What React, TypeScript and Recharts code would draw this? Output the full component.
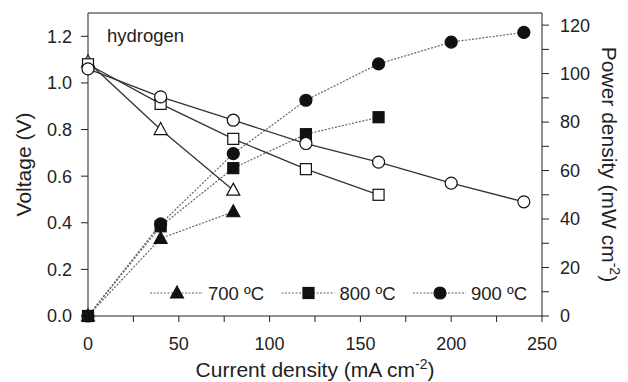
import React from "react";
import { LineChart, Line, XAxis, YAxis, ReferenceLine } from "recharts";

const current700 = [0, 40, 80];
const current800 = [0, 40, 80, 120, 160];
const current900 = [0, 40, 80, 120, 160, 200, 240];

const voltage700 = [1.09, 0.8, 0.54];
const voltage800 = [1.08, 0.91, 0.76, 0.63, 0.52];
const voltage900 = [1.06, 0.94, 0.84, 0.74, 0.66, 0.57, 0.49];

const power700 = [0, 32, 43];
const power800 = [0, 37, 61, 75, 82];
const power900 = [0, 38, 67, 89, 104, 113, 117];

const legendLabels = ["700 ºC", "800 ºC", "900 ºC"];

const xTicks = [0, 25, 50, 75, 100, 125, 150, 175, 200, 225, 250];
const leftTicks = [0, 0.2, 0.4, 0.6, 0.8, 1.0, 1.2];
const rightTicks = [0, 10, 20, 30, 40, 50, 60, 70, 80, 90, 100, 110, 120];

const FONT = "'Liberation Sans', Arial, sans-serif";
const INK = "#222";

const rows = (xs: number[], ys: number[]) => xs.map((x, i) => ({ x, y: ys[i] }));

type Shape = "triangle" | "square" | "circle";
const shapes: Shape[] = ["triangle", "square", "circle"];

const marker = (shape: Shape, filled: boolean) => (props: any) => {
  const { cx, cy, key } = props;
  if (cx == null || cy == null) return <g key={key} />;
  const fill = filled ? "#111" : "#fff";
  const common = { fill, stroke: "#111", strokeWidth: 1.2 };
  if (shape === "circle") return <circle key={key} cx={cx} cy={cy} r={6} {...common} />;
  if (shape === "square")
    return <rect key={key} x={cx - 5.5} y={cy - 5.5} width={11} height={11} {...common} />;
  return (
    <path
      key={key}
      d={`M${cx},${cy - 7} L${cx + 6.5},${cy + 5} L${cx - 6.5},${cy + 5} Z`}
      {...common}
    />
  );
};

// legend drawn straight into the svg, inside the plot near the bottom
const LegendRow = () => (
  <g>
    {legendLabels.map((label, i) => {
      const x0 = 150 + i * 131.5;
      const y = 293;
      return (
        <g key={label}>
          <line x1={x0} y1={y} x2={x0 + 53} y2={y} stroke="#666" strokeWidth={1.2} strokeDasharray="2 1.5" />
          {marker(shapes[i], true)({ cx: x0 + 27, cy: y })}
          <text x={x0 + 58} y={y + 6.5} fontFamily={FONT} fontSize={18.5} fill={INK}>
            {label}
          </text>
        </g>
      );
    })}
  </g>
);

const XLabel = (props: any) => {
  const { viewBox } = props;
  const cx = viewBox.x + viewBox.width / 2;
  return (
    <text x={cx} y={377} textAnchor="middle" fontFamily={FONT} fontSize={21} fill={INK}>
      Current density (mA cm<tspan dy={-8} fontSize={14}>-2</tspan><tspan dy={8}>)</tspan>
    </text>
  );
};

const LeftLabel = (props: any) => {
  const { viewBox } = props;
  const cy = viewBox.y + viewBox.height / 2;
  return (
    <text x={31} y={cy} textAnchor="middle" fontFamily={FONT} fontSize={21} fill={INK}
      transform={`rotate(-90, 31, ${cy})`}>
      Voltage (V)
    </text>
  );
};

const RightLabel = (props: any) => {
  const { viewBox } = props;
  const cy = viewBox.y + viewBox.height / 2;
  return (
    <text x={602} y={cy} textAnchor="middle" fontFamily={FONT} fontSize={21} fill={INK}
      transform={`rotate(90, 602, ${cy})`}>
      Power density (mW cm<tspan dy={-8} fontSize={14}>-2</tspan><tspan dy={8}>)</tspan>
    </text>
  );
};

const tickStyle = { fontFamily: FONT, fontSize: 18, fill: INK };

export default function App() {
  const voltSeries = [
    rows(current700, voltage700),
    rows(current800, voltage800),
    rows(current900, voltage900),
  ];
  const powerSeries = [
    rows(current700, power700),
    rows(current800, power800),
    rows(current900, power900),
  ];

  return (
    <div style={{ position: "absolute", left: 0, top: 0, background: "#fff" }}>
      <LineChart width={628} height={382} margin={{ top: 13, right: 26, bottom: 36, left: 28 }}>
        <XAxis
          type="number"
          dataKey="x"
          domain={[0, 250]}
          ticks={xTicks}
          interval={0}
          tickFormatter={(v: number) => (v % 50 === 0 ? String(v) : "")}
          tick={tickStyle}
          tickSize={6}
          tickMargin={15}
          height={30}
          stroke={INK}
          label={<XLabel />}
        />
        <YAxis
          yAxisId="left"
          domain={[0, 1.3]}
          ticks={leftTicks}
          interval={0}
          tickFormatter={(v: number) => v.toFixed(1)}
          tick={tickStyle}
          tickSize={7}
          tickMargin={9}
          width={60}
          stroke={INK}
          label={<LeftLabel />}
        />
        <YAxis
          yAxisId="right"
          orientation="right"
          domain={[0, 125]}
          ticks={rightTicks}
          interval={0}
          tickFormatter={(v: number) => (v % 20 === 0 ? String(v) : "")}
          tick={tickStyle}
          tickSize={7}
          tickMargin={11}
          width={60}
          stroke={INK}
          label={<RightLabel />}
        />
        <ReferenceLine yAxisId="left" y={1.3} stroke={INK} ifOverflow="visible" />
        {powerSeries.map((d, i) => (
          <Line
            key={"p" + i}
            yAxisId="right"
            data={d}
            dataKey="y"
            type="linear"
            stroke="#666"
            strokeWidth={1.2}
            strokeDasharray="2 1.5"
            dot={marker(shapes[i], true)}
            activeDot={false}
            isAnimationActive={false}
          />
        ))}
        {voltSeries.map((d, i) => (
          <Line
            key={"v" + i}
            yAxisId="left"
            data={d}
            dataKey="y"
            type="linear"
            stroke="#333"
            strokeWidth={1.3}
            dot={marker(shapes[i], false)}
            activeDot={false}
            isAnimationActive={false}
          />
        ))}
        <LegendRow />
        <text x={107} y={42} fontFamily={FONT} fontSize={18.5} fill={INK}>
          hydrogen
        </text>
      </LineChart>
    </div>
  );
}
